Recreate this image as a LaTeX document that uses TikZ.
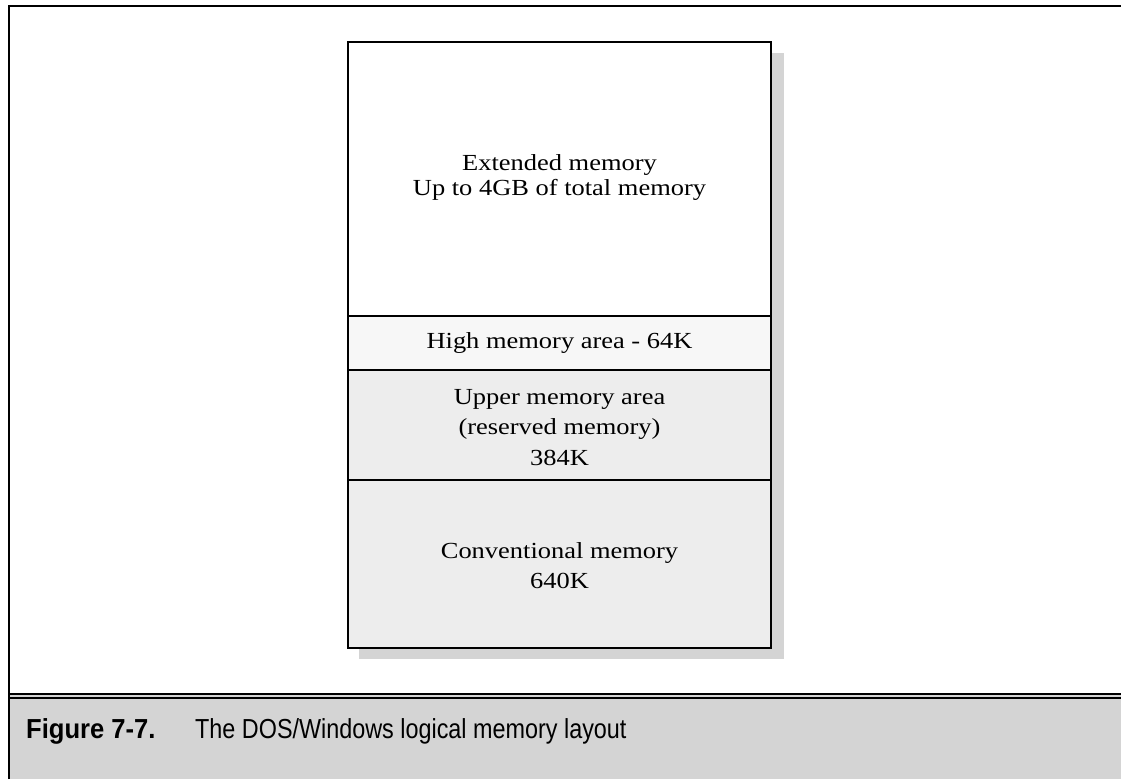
\documentclass[tikz,border=0pt]{standalone}
\usepackage{fontspec}
\newfontfamily\capfont[FakeStretch=0.85]{Liberation Sans}
\newfontfamily\capboldfont[FakeStretch=0.93]{Liberation Sans}
\newfontfamily\memfont[FakeStretch=1.15]{Liberation Serif}
\definecolor{shadowgray}{HTML}{D4D4D4}
\definecolor{capgray}{HTML}{D4D4D4}
\definecolor{lightfill}{HTML}{EDEDED}
\definecolor{palefill}{HTML}{F7F7F7}
\begin{document}
\begin{tikzpicture}[x=1pt,y=-1pt,
  region/.style={rectangle, draw=black, line width=1.5pt, inner sep=0pt, outer sep=0pt, minimum width=423pt},
  memtext/.style={anchor=base, inner sep=0pt, font=\memfont\fontsize{23}{28}\selectfont},
  captext/.style={anchor=base west, inner sep=0pt, font=\capfont\fontsize{27.5}{30}\selectfont}]
\useasboundingbox (0,0) rectangle (1121,779);
\fill[white] (0,0) rectangle (1121,779);
% caption area
\fill[capgray] (9,693) rectangle (1121,779);
% frame
\draw[line width=2.5pt] (9,779) -- (9,6) -- (1121,6);
\draw[line width=2pt] (9,694) -- (1121,694);
\draw[line width=2pt] (9,698) -- (1121,698);
% shadow
\fill[shadowgray] (359,53) rectangle (784,659);
% regions
\node[region, fill=white, minimum height=274pt] (ext) at (559.5,179) {};
\node[region, fill=palefill, minimum height=54pt] (hma) at (559.5,343) {};
\node[region, fill=lightfill, minimum height=110pt] (uma) at (559.5,425) {};
\node[region, fill=lightfill, minimum height=168pt] (conv) at (559.5,564) {};
\draw[line width=2.2pt] (ext.north west) rectangle (conv.south east);
% texts
\node[memtext] (extA) at (559.5,170) {Extended memory};
\node[memtext] (extB) at (559.5,195) {Up to 4GB of total memory};
\node[memtext] (hmaA) at (559.5,348) {High memory area - 64K};
\node[memtext] (umaA) at (559.5,404) {Upper memory area};
\node[memtext] (umaB) at (559.5,434) {(reserved memory)};
\node[memtext] (umaC) at (559.5,465) {384K};
\node[memtext] (convA) at (559.5,558) {Conventional memory};
\node[memtext] (convB) at (559.5,588) {640K};
% caption
\node[captext, font=\capboldfont\bfseries\fontsize{27.5}{30}\selectfont] (fig) at (26,738) {Figure 7-7.};
\node[captext] (cap) at (195,738) {The DOS/Windows logical memory layout};
\end{tikzpicture}
\end{document}
